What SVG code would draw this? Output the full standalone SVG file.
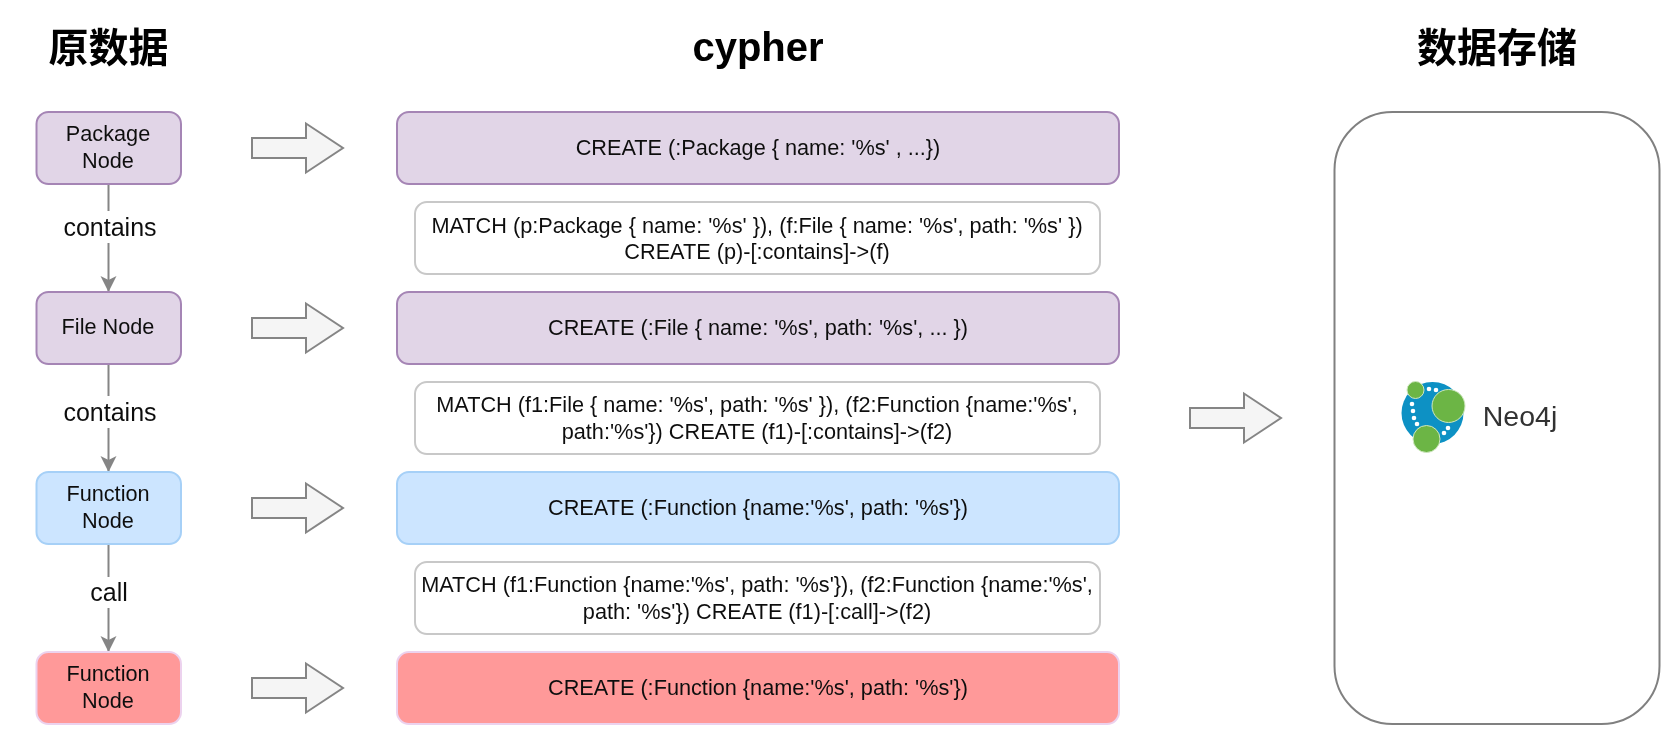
<svg xmlns="http://www.w3.org/2000/svg" width="1670" height="748" viewBox="0 0 1670 748">
<style>
text{font-family:"Liberation Sans",Arial,"Noto Sans CJK SC",sans-serif;fill:#111;text-anchor:middle}
.t{font-size:21.700px}
.l{font-size:25px}
.h{font-size:40px;font-weight:700;fill:#000}
.h2{font-family:"Noto Sans CJK SC","Liberation Sans",sans-serif}
.p{fill:#e1d5e7;stroke:#a585b5;stroke-width:2}
.b{fill:#cce5ff;stroke:#a6d0f7;stroke-width:2}
.r{fill:#ff9999;stroke:#ecd2ee;stroke-width:2}
.w{fill:#fff;stroke:#c8c8c8;stroke-width:2}
.a{fill:#f5f5f5;stroke:#858585;stroke-width:2}
.c{fill:none;stroke:#858585;stroke-width:2}
</style>
<defs>
<marker id="ah" markerUnits="userSpaceOnUse" markerWidth="18" markerHeight="18" refX="16" refY="8" orient="auto">
<path d="M0,0 L16,8 L0,16 L4,8 Z" fill="#858585"/>
</marker>
<path id="fat" d="M0,-10 H54 V-24.5 L91,0 L54,24.5 V10 H0 Z"/>
<filter id="soft" filterUnits="userSpaceOnUse" x="0" y="0" width="1670" height="748"><feGaussianBlur stdDeviation="0.6"/></filter>
</defs>
<rect width="1670" height="748" fill="#fff"/>
<g id="diagram" filter="url(#soft)">
<g id="titles">
<text class="h h2" x="108.500" y="62">原数据</text>
<text class="h" x="758" y="61">cypher</text>
<text class="h h2" x="1497" y="62">数据存储</text>
</g>
<g id="connectors">
<path class="c" d="M108.500,184 V292" marker-end="url(#ah)"/>
<path class="c" d="M108.500,364 V472" marker-end="url(#ah)"/>
<path class="c" d="M108.500,544 V652" marker-end="url(#ah)"/>
<use href="#fat" class="a" x="252" y="148"/>
<use href="#fat" class="a" x="252" y="328"/>
<use href="#fat" class="a" x="252" y="508"/>
<use href="#fat" class="a" x="252" y="688"/>
<use href="#fat" class="a" x="1190" y="418"/>
</g>
<g id="edge-labels">
<rect x="60" y="211" width="100" height="32" fill="#fff"/>
<text class="l" x="110" y="235.500">contains</text>
<rect x="60" y="396" width="100" height="32" fill="#fff"/>
<text class="l" x="110" y="420.500">contains</text>
<rect x="80" y="577" width="60" height="31" fill="#fff"/>
<text class="l" x="109" y="600.500">call</text>
</g>
<g id="n-package"><rect class="p" x="36.500" y="112" width="144.500" height="72" rx="12"/><text class="t" x="108" y="141">Package</text><text class="t" x="108" y="168">Node</text></g>
<g id="n-file"><rect class="p" x="36.500" y="292" width="144.500" height="72" rx="12"/><text class="t" x="108" y="334">File Node</text></g>
<g id="n-function-1"><rect class="b" x="36.500" y="472" width="144.500" height="72" rx="12"/><text class="t" x="108" y="501">Function</text><text class="t" x="108" y="528">Node</text></g>
<g id="n-function-2"><rect class="r" x="36.500" y="652" width="144.500" height="72" rx="12"/><text class="t" x="108" y="681">Function</text><text class="t" x="108" y="708">Node</text></g>
<g id="q-create-package"><rect class="p" x="397" y="112" width="722" height="72" rx="12"/><text class="t" x="758" y="155">CREATE (:Package { name: '%s' , ...})</text></g>
<g id="q-match-contains-1"><rect class="w" x="415" y="202" width="685" height="72" rx="12"/><text class="t" x="757" y="232.500">MATCH (p:Package { name: '%s' }), (f:File { name: '%s', path: '%s' })</text><text class="t" x="757" y="259">CREATE (p)-[:contains]-&gt;(f)</text></g>
<g id="q-create-file"><rect class="p" x="397" y="292" width="722" height="72" rx="12"/><text class="t" x="758" y="334.500">CREATE (:File { name: '%s', path: '%s', ... })</text></g>
<g id="q-match-contains-2"><rect class="w" x="415" y="382" width="685" height="72" rx="12"/><text class="t" x="757" y="412">MATCH (f1:File { name: '%s', path: '%s' }), (f2:Function {name:'%s',</text><text class="t" x="757" y="439">path:'%s'}) CREATE (f1)-[:contains]-&gt;(f2)</text></g>
<g id="q-create-function-1"><rect class="b" x="397" y="472" width="722" height="72" rx="12"/><text class="t" x="758" y="515">CREATE (:Function {name:'%s', path: '%s'})</text></g>
<g id="q-match-call"><rect class="w" x="415" y="562" width="685" height="72" rx="12"/><text class="t" x="757" y="592">MATCH (f1:Function {name:'%s', path: '%s'}), (f2:Function {name:'%s',</text><text class="t" x="757" y="618.500">path: '%s'}) CREATE (f1)-[:call]-&gt;(f2)</text></g>
<g id="q-create-function-2"><rect class="r" x="397" y="652" width="722" height="72" rx="12"/><text class="t" x="758" y="695">CREATE (:Function {name:'%s', path: '%s'})</text></g>
<g id="n-neo4j">
<rect x="1334.500" y="112" width="325" height="612" rx="58" fill="#fff" stroke="#808080" stroke-width="2"/>
<circle cx="1432.500" cy="413" r="31" fill="#0a91c4"/>
<g fill="#fff"><circle cx="1429" cy="389" r="2.300"/><circle cx="1436" cy="390" r="2.300"/><circle cx="1412" cy="404" r="2.300"/><circle cx="1413" cy="411" r="2.300"/><circle cx="1414" cy="418" r="2.300"/><circle cx="1417" cy="424" r="2.300"/><circle cx="1448" cy="428" r="2.300"/><circle cx="1444" cy="433" r="2.300"/></g>
<g fill="#6cb545" stroke="#cfe7c0" stroke-width="1"><circle cx="1415.500" cy="390" r="8.500"/><circle cx="1448.500" cy="406" r="16.500"/><circle cx="1426.500" cy="439" r="13.500"/></g>
<text x="1520" y="426" font-size="28.500" style="fill:#333">Neo4j</text>
</g>
</g>
</svg>
